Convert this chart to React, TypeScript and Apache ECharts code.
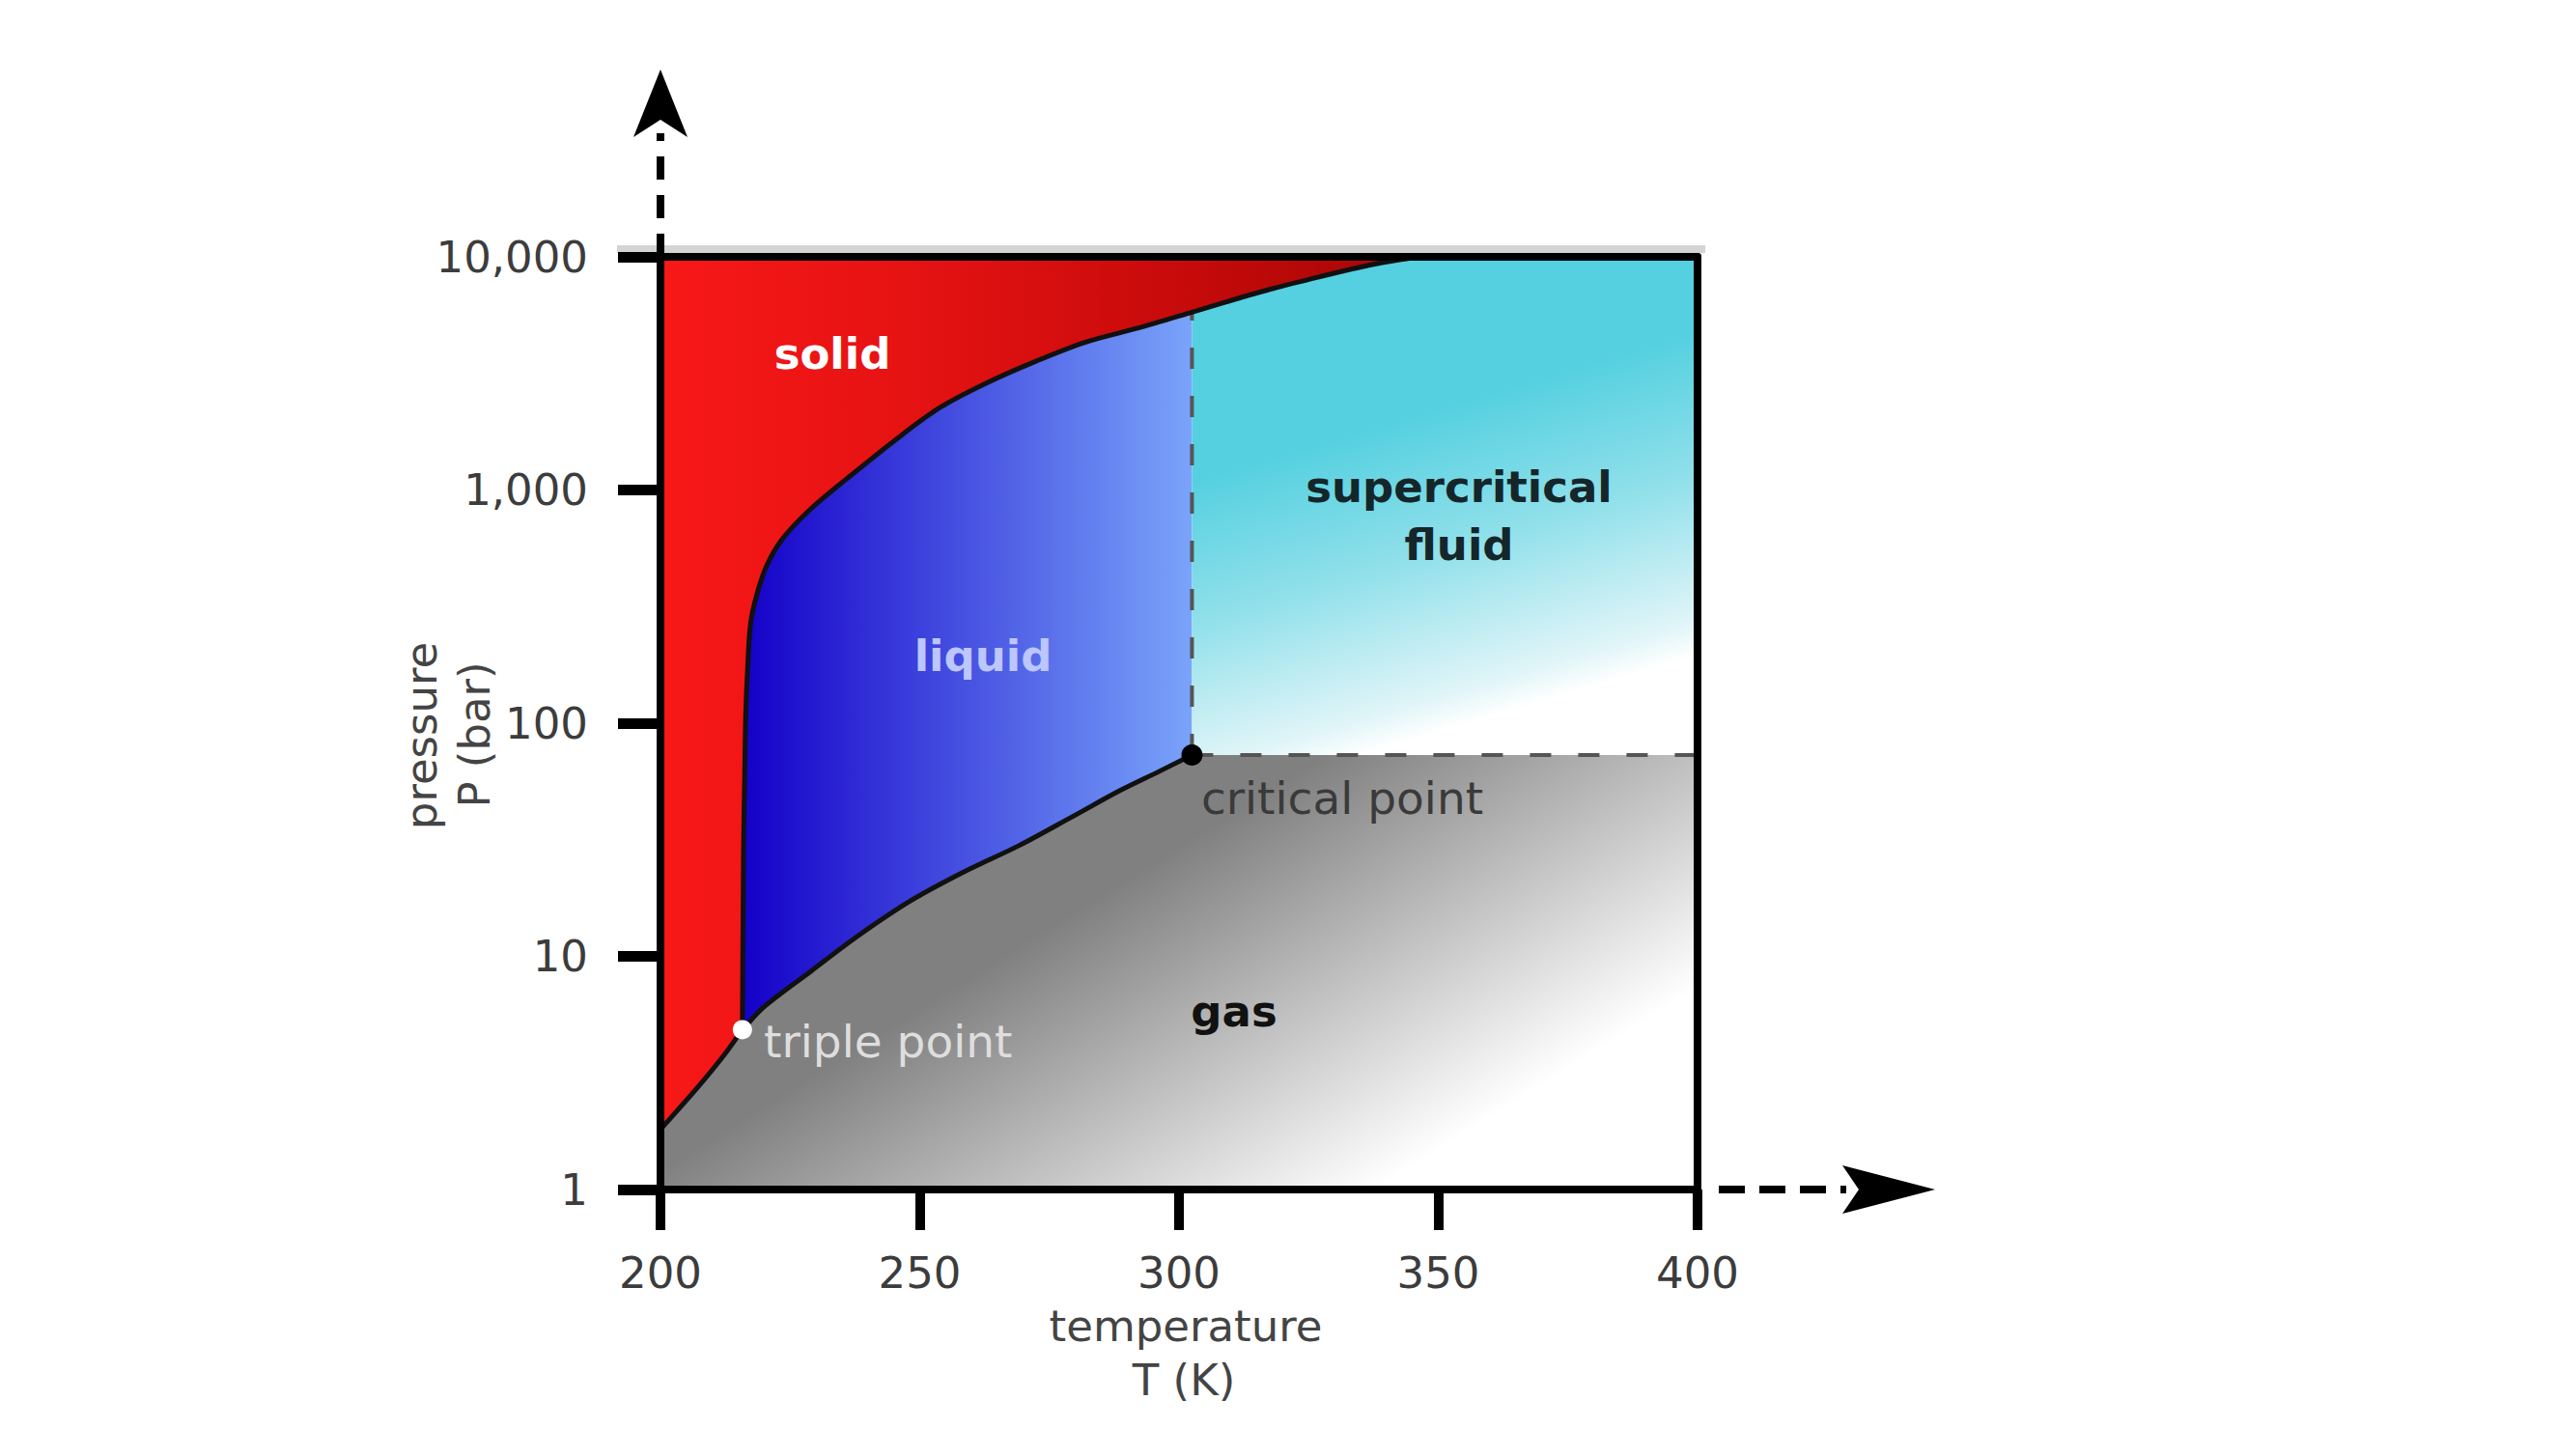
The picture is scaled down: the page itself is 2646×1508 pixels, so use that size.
import React, { useEffect, useRef } from 'react';
import * as echarts from 'echarts';

// ---- axis settings ----
const T_MIN = 200;
const T_MAX = 400;
const P_MIN = 1;
const P_MAX = 10000;
const xTickStep = 50;
const yTickLabels = ['1', '10', '100', '1,000', '10,000'];

// ---- phase-diagram data (temperature K, pressure bar) ----
const triplePoint: number[] = [215.8, 4.85];
const criticalPoint: number[] = [302.5, 73];

const sublimationCurve: number[][] = [
  [200, 1.81], [207.1, 2.73], [212.3, 3.78], [215.8, 4.85],
];

const meltingCurve: number[][] = [
  [215.8, 4.85], [216.0, 25], [216.4, 100], [216.8, 170], [217.4, 270],
  [218.8, 370], [220.6, 480], [223.6, 620], [229.0, 830], [236.2, 1130],
  [245.0, 1620], [253.8, 2250], [262.6, 2857], [272.3, 3558], [282.0, 4306],
  [291.8, 4929], [302.5, 5790], [309.0, 6400], [318.0, 7300], [327.0, 8200],
  [336.6, 9200], [346.0, 10000],
];

const vaporizationCurve: number[][] = [
  [215.8, 4.85], [220.0, 6.08], [229.0, 8.63], [238.1, 12.25], [248.4, 17.4],
  [258.8, 23.2], [269.2, 29.9], [279.5, 39.8], [288.6, 51.4], [296.3, 62.3],
  [302.5, 73],
];

const critIdx = meltingCurve.findIndex((p) => p[0] === criticalPoint[0]);

// gradient styles per region: [x, y, x2, y2] as fractions of the region's box
const regionStyles = [
  { grad: [0, 0, 1, 0], stops: [
    { offset: 0, color: '#f81818' }, { offset: 0.35, color: '#e41212' },
    { offset: 0.7, color: '#c60a0a' }, { offset: 1, color: '#a60606' }] },
  { grad: [0, 0, 1, 0], stops: [
    { offset: 0, color: '#1400c8' }, { offset: 1, color: '#7aa4fa' }] },
  { grad: [0.317, 0.357, 0.491, 0.953], stops: [
    { offset: 0, color: '#55d0e0' }, { offset: 0.44, color: '#90e0ea' },
    { offset: 0.89, color: '#e0f5f8' }, { offset: 1, color: '#ffffff' }] },
  { grad: [0.294, 0.517, 0.496, 1.288], stops: [
    { offset: 0, color: '#808080' }, { offset: 1, color: '#ffffff' }] },
];

const FONT = '"DejaVu Sans", Verdana, sans-serif';

type Seg = { p1: number[]; c1: number[]; c2: number[]; p2: number[] };

// smooth cubic segments through pixel points (tangent = chord of neighbours)
function bezierSegs(pts: number[][]): Seg[] {
  const n = pts.length;
  const tans = pts.map((_, i) => {
    const a = pts[Math.max(0, i - 1)];
    const b = pts[Math.min(n - 1, i + 1)];
    const dx = b[0] - a[0];
    const dy = b[1] - a[1];
    const l = Math.hypot(dx, dy) || 1;
    return [dx / l, dy / l];
  });
  const segs: Seg[] = [];
  for (let i = 0; i < n - 1; i++) {
    const p1 = pts[i];
    const p2 = pts[i + 1];
    const k = Math.hypot(p2[0] - p1[0], p2[1] - p1[1]) / 3;
    segs.push({
      p1,
      c1: [p1[0] + tans[i][0] * k, p1[1] + tans[i][1] * k],
      c2: [p2[0] - tans[i + 1][0] * k, p2[1] - tans[i + 1][1] * k],
      p2,
    });
  }
  return segs;
}

const f = (p: number[]) => `${p[0].toFixed(2)} ${p[1].toFixed(2)}`;

// path commands following a curve from point index `from` to point index `to`
function follow(segs: Seg[], from: number, to: number): string {
  let s = '';
  if (from < to) {
    for (let i = from; i < to; i++) s += ` C ${f(segs[i].c1)} ${f(segs[i].c2)} ${f(segs[i].p2)}`;
  } else {
    for (let i = from - 1; i >= to; i--) s += ` C ${f(segs[i].c2)} ${f(segs[i].c1)} ${f(segs[i].p1)}`;
  }
  return s;
}

function buildPaths(api: any) {
  const c = (p: number[]) => api.coord(p);
  const sub = bezierSegs(sublimationCurve.map(c));
  const mel = bezierSegs(meltingCurve.map(c));
  const vap = bezierSegs(vaporizationCurve.map(c));
  const nS = sublimationCurve.length - 1;
  const nM = meltingCurve.length - 1;
  const nV = vaporizationCurve.length - 1;
  const crit = c(criticalPoint);

  const solid = `M ${f(c(sublimationCurve[0]))}` + follow(sub, 0, nS) + follow(mel, 0, nM) +
    ` L ${f(c([T_MIN, P_MAX]))} Z`;
  const liquid = `M ${f(c(meltingCurve[0]))}` + follow(mel, 0, critIdx) + ` L ${f(crit)}` +
    follow(vap, nV, 0) + ' Z';
  const supercritical = `M ${f(c(meltingCurve[critIdx]))}` + follow(mel, critIdx, nM) +
    ` L ${f(c([T_MAX, P_MAX]))} L ${f(c([T_MAX, criticalPoint[1]]))} L ${f(crit)} Z`;
  const gas = `M ${f(c([T_MIN, P_MIN]))} L ${f(c(sublimationCurve[0]))}` + follow(sub, 0, nS) +
    follow(vap, 0, nV) + ` L ${f(c([T_MAX, criticalPoint[1]]))} L ${f(c([T_MAX, P_MIN]))} Z`;

  const curves = [
    `M ${f(c(sublimationCurve[0]))}` + follow(sub, 0, nS),
    `M ${f(c(meltingCurve[0]))}` + follow(mel, 0, nM),
    `M ${f(c(vaporizationCurve[0]))}` + follow(vap, 0, nV),
  ];
  return { regions: [solid, liquid, supercritical, gas], curves };
}

function regionBox(api: any, i: number) {
  const sets = [
    [...sublimationCurve, ...meltingCurve, [T_MIN, P_MAX]],
    [...meltingCurve.slice(0, critIdx + 1), ...vaporizationCurve],
    [...meltingCurve.slice(critIdx), [T_MAX, P_MAX], [T_MAX, criticalPoint[1]], criticalPoint],
    [[T_MIN, P_MIN], ...sublimationCurve, ...vaporizationCurve, [T_MAX, criticalPoint[1]], [T_MAX, P_MIN]],
  ];
  const pts = sets[i].map((p) => api.coord(p));
  const xs = pts.map((p: number[]) => p[0]);
  const ys = pts.map((p: number[]) => p[1]);
  const x0 = Math.min(...xs);
  const y0 = Math.min(...ys);
  return { x0, y0, w: Math.max(...xs) - x0, h: Math.max(...ys) - y0 };
}

export default function App() {
  const ref = useRef<HTMLDivElement>(null);

  useEffect(() => {
    document.body.style.margin = '0';
    if (!ref.current) return;
    const chart = echarts.init(ref.current, null, { renderer: 'svg' });

    const dashStyle = { color: '#555', width: 4, type: [22, 28] as any };

    const label = (text: string, x: number, y: number, fill: string, weight: string, size = 45, align = 'center') => ({
      type: 'text',
      x,
      y,
      z: 100,
      style: {
        text,
        fill,
        fontSize: size,
        fontWeight: weight,
        fontFamily: FONT,
        lineHeight: 40,
        align,
        verticalAlign: 'middle',
      },
    });

    const option: any = {
      animation: false,
      backgroundColor: '#ffffff',
      grid: { left: 684, right: 888, top: 266, bottom: 276, outerBoundsMode: 'none', containLabel: false },
      xAxis: [
        {
          type: 'value',
          min: T_MIN,
          max: T_MAX,
          interval: xTickStep,
          z: 10,
          axisLine: { show: true, onZero: false, lineStyle: { color: '#000', width: 8 } },
          axisTick: { show: true, inside: false, length: 42, lineStyle: { color: '#000', width: 10 } },
          axisLabel: {
            show: true, margin: 66, color: '#3c3c3c', fontSize: 45, lineHeight: 40,
            fontFamily: FONT, showMinLabel: true, showMaxLabel: true,
          },
          splitLine: { show: false },
        },
        {
          type: 'value',
          position: 'top',
          min: 0,
          max: 1,
          z: 10,
          axisLine: { show: true, onZero: false, lineStyle: { color: '#000', width: 8 } },
          axisTick: { show: false },
          axisLabel: { show: false },
          splitLine: { show: false },
        },
      ],
      yAxis: [
        {
          type: 'log',
          logBase: 10,
          min: P_MIN,
          max: P_MAX,
          z: 10,
          axisLine: { show: true, onZero: false, lineStyle: { color: '#000', width: 8 } },
          axisTick: { show: true, inside: false, length: 44, lineStyle: { color: '#000', width: 11 } },
          axisLabel: {
            show: true,
            margin: 75,
            color: '#3c3c3c',
            fontSize: 45,
            lineHeight: 40,
            fontFamily: FONT,
            formatter: (v: number) => yTickLabels[Math.round(Math.log10(v))] ?? String(v),
          },
          splitLine: { show: false },
          minorTick: { show: false },
        },
        {
          type: 'value',
          position: 'right',
          min: 0,
          max: 1,
          z: 10,
          axisLine: { show: true, onZero: false, lineStyle: { color: '#000', width: 8 } },
          axisTick: { show: false },
          axisLabel: { show: false },
          splitLine: { show: false },
        },
      ],
      series: [
        {
          type: 'custom',
          name: 'phases',
          xAxisIndex: 0,
          yAxisIndex: 0,
          z: 1,
          clip: false,
          silent: true,
          data: regionStyles.map((_, i) => [i]),
          renderItem: (params: any, api: any) => {
            const i = params.dataIndex;
            const { regions } = buildPaths(api);
            const b = regionBox(api, i);
            const g = regionStyles[i].grad;
            return {
              type: 'path',
              shape: { pathData: regions[i] },
              style: {
                fill: {
                  type: 'linear',
                  x: b.x0 + g[0] * b.w,
                  y: b.y0 + g[1] * b.h,
                  x2: b.x0 + g[2] * b.w,
                  y2: b.y0 + g[3] * b.h,
                  global: true,
                  colorStops: regionStyles[i].stops,
                },
                stroke: 'none',
              },
            };
          },
        },
        {
          type: 'line', name: 'critical isotherm', data: [criticalPoint, meltingCurve[critIdx]],
          symbol: 'none', z: 3, lineStyle: dashStyle,
        },
        {
          type: 'line', name: 'critical isobar', data: [criticalPoint, [T_MAX, criticalPoint[1]]],
          symbol: 'none', z: 3, lineStyle: dashStyle,
        },
        {
          type: 'custom',
          name: 'phase boundaries',
          xAxisIndex: 0,
          yAxisIndex: 0,
          z: 4,
          clip: false,
          silent: true,
          data: [[0], [1], [2]],
          renderItem: (params: any, api: any) => {
            const { curves } = buildPaths(api);
            return {
              type: 'path',
              shape: { pathData: curves[params.dataIndex] },
              style: { fill: 'none', stroke: '#111111', lineWidth: 5, lineJoin: 'round' },
            };
          },
        },
        {
          type: 'scatter', name: 'critical point', data: [criticalPoint], symbolSize: 22, z: 5,
          itemStyle: { color: '#000', opacity: 1 },
        },
        {
          type: 'scatter', name: 'triple point', data: [triplePoint], symbolSize: 20, z: 5,
          itemStyle: { color: '#ffffff', opacity: 1 },
        },
      ],
      graphic: [
        { type: 'line', z: 0, shape: { x1: 639, y1: 258, x2: 1766, y2: 258 }, style: { stroke: '#d4d4d4', lineWidth: 8 } },
        { type: 'line', z: 50, shape: { x1: 684, y1: 266, x2: 684, y2: 138 }, style: { stroke: '#000', lineWidth: 8, lineDash: [24, 16] } },
        { type: 'polygon', z: 50, shape: { points: [[684, 72], [712, 142], [684, 124], [656, 142]] }, style: { fill: '#000' } },
        { type: 'line', z: 50, shape: { x1: 1780, y1: 1232, x2: 1912, y2: 1232 }, style: { stroke: '#000', lineWidth: 8, lineDash: [27, 15] } },
        { type: 'polygon', z: 50, shape: { points: [[2004, 1232], [1908, 1207], [1925, 1232], [1908, 1257]] }, style: { fill: '#000' } },
        label('solid', 862, 366, '#ffffff', 'bold'),
        label('liquid', 1018, 679, '#bcc6ff', 'bold'),
        label('supercritical', 1511, 504, '#14262a', 'bold'),
        label('fluid', 1511, 564, '#14262a', 'bold'),
        label('critical point', 1390, 826, '#3a3a3a', 'normal', 47),
        label('gas', 1278, 1047, '#111111', 'bold'),
        label('triple point', 791, 1078, '#dedede', 'normal', 47, 'left'),
        label('temperature', 1228, 1373, '#444444', 'normal'),
        label('T (K)', 1226, 1429, '#444444', 'normal'),
        { ...label('pressure', 436, 762, '#444444', 'normal'), rotation: Math.PI / 2 },
        { ...label('P (bar)', 491, 761, '#444444', 'normal'), rotation: Math.PI / 2 },
      ],
    };

    chart.setOption(option);
    return () => chart.dispose();
  }, []);

  return <div ref={ref} style={{ width: 2646, height: 1508 }} />;
}
